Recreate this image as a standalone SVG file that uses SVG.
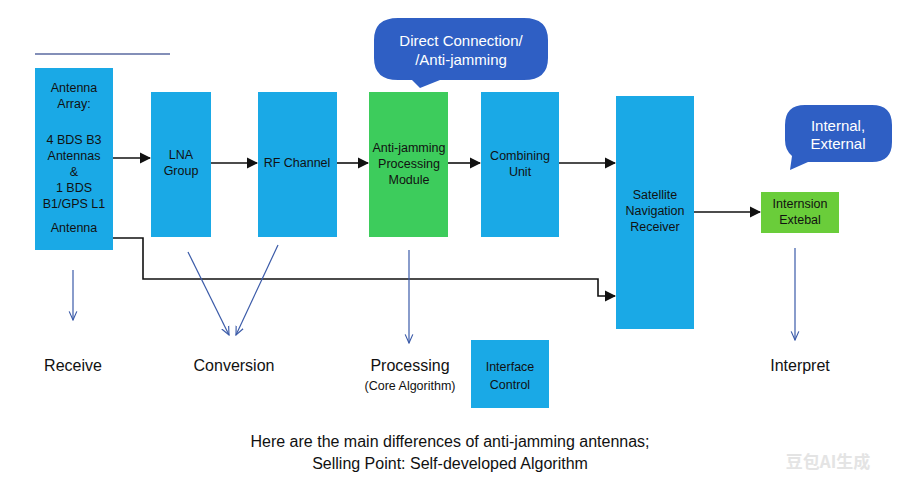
<svg xmlns="http://www.w3.org/2000/svg" width="900" height="495" viewBox="0 0 900 495">
<style>
text{font-family:"Liberation Sans",Arial,sans-serif;fill:#111}
.b{fill:#1aa9e6}
.t{font-size:12.5px;text-anchor:middle}
.l{font-size:16px;text-anchor:middle}
.w{fill:#fff;font-size:15px;text-anchor:middle}
.c line,.c path,.c polyline{stroke:#111;stroke-width:1.6;fill:none}
.d line{stroke:#3a5aa8;stroke-width:1.2}
</style>
<defs>
<marker id="a" viewBox="0 0 10 10" refX="9" refY="5" markerWidth="7" markerHeight="7" orient="auto"><path d="M0,0L10,5L0,10z" fill="#111"/></marker>
<marker id="s" viewBox="0 0 10 10" refX="9" refY="5" markerWidth="8" markerHeight="8" orient="auto"><path d="M0,1L9,5L0,9" fill="none" stroke="#3a5aa8" stroke-width="1.2"/></marker>
</defs>
<rect width="900" height="495" fill="#fff"/>
<line x1="35" y1="54" x2="170" y2="54" stroke="#5a6aa0" stroke-width="1.5"/>
<g id="antenna"><rect class="b" x="35" y="68" width="78" height="182"/>
<text class="t"><tspan x="74" y="92">Antenna</tspan><tspan x="74" y="108">Array:</tspan><tspan x="74" y="144">4 BDS B3</tspan><tspan x="74" y="160">Antennas</tspan><tspan x="74" y="176">&amp;</tspan><tspan x="74" y="192">1 BDS</tspan><tspan x="74" y="208">B1/GPS L1</tspan><tspan x="74" y="232">Antenna</tspan></text></g>
<g id="lna"><rect class="b" x="151" y="92" width="60" height="145"/><text class="t"><tspan x="181" y="159">LNA</tspan><tspan x="181" y="175">Group</tspan></text></g>
<g id="rf"><rect class="b" x="258" y="92" width="79" height="145"/><text class="t" x="297" y="167">RF Channel</text></g>
<g id="aj"><rect fill="#3dcc5c" x="369" y="92" width="79" height="145"/><text class="t" font-size="12"><tspan x="409" y="152">Anti-jamming</tspan><tspan x="409" y="168">Processing</tspan><tspan x="409" y="184">Module</tspan></text></g>
<g id="comb"><rect class="b" x="481" y="92" width="78" height="145"/><text class="t"><tspan x="520" y="160">Combining</tspan><tspan x="520" y="176">Unit</tspan></text></g>
<g id="sat"><rect class="b" x="616" y="96" width="78" height="233"/><text class="t"><tspan x="655" y="199">Satellite</tspan><tspan x="655" y="215">Navigation</tspan><tspan x="655" y="231">Receiver</tspan></text></g>
<g id="ext"><rect fill="#6acd3a" x="761" y="192" width="78" height="41"/><text class="t" fill="#333" font-size="12"><tspan x="800" y="208">Internsion</tspan><tspan x="800" y="224">Extebal</tspan></text></g>
<g id="iface"><rect class="b" x="471" y="340" width="78" height="68"/><text class="t" font-size="14"><tspan x="510" y="371">Interface</tspan><tspan x="510" y="389">Control</tspan></text></g>
<g id="callout1"><path d="M398,18H524Q548,18 548,40V58Q548,80 524,80H440L420,88L412,80H398Q374,80 374,58V40Q374,18 398,18z" fill="#2f5fc4"/><text class="w"><tspan x="461" y="46">Direct Connection/</tspan><tspan x="461" y="65">/Anti-jamming</tspan></text></g>
<g id="callout2"><path d="M805,105H872Q892,105 892,125V142Q892,162 872,162H808L790,170L792,156Q785,150 785,140V125Q785,105 805,105z" fill="#2f5fc4"/><text class="w"><tspan x="838" y="131">Internal,</tspan><tspan x="838" y="149">External</tspan></text></g>
<g class="c">
<line x1="113" y1="158" x2="150" y2="158" marker-end="url(#a)"/>
<line x1="211" y1="163" x2="257" y2="163" marker-end="url(#a)"/>
<line x1="337" y1="163" x2="368" y2="163" marker-end="url(#a)"/>
<line x1="448" y1="163" x2="480" y2="163" marker-end="url(#a)"/>
<line x1="559" y1="163" x2="615" y2="163" marker-end="url(#a)"/>
<line x1="694" y1="212" x2="760" y2="212" marker-end="url(#a)"/>
<polyline points="113,238 143,238 143,279 598,279 598,296 615,296" marker-end="url(#a)"/>
</g>
<g class="d">
<line x1="73" y1="270" x2="73" y2="320" marker-end="url(#s)"/>
<line x1="188" y1="252" x2="229" y2="335" marker-end="url(#s)"/>
<line x1="278" y1="245" x2="236" y2="335" marker-end="url(#s)"/>
<line x1="409" y1="250" x2="409" y2="343" marker-end="url(#s)"/>
<line x1="795" y1="248" x2="795" y2="340" marker-end="url(#s)"/>
</g>
<text class="l" x="73" y="371">Receive</text>
<text class="l" x="234" y="371">Conversion</text>
<text class="l" x="410" y="371">Processing</text>
<text class="t" font-size="13" x="410" y="390">(Core Algorithm)</text>
<text class="l" x="800" y="371">Interpret</text>
<text class="l" x="450" y="447">Here are the main differences of anti-jamming antennas;</text>
<text class="l" x="450" y="469">Selling Point: Self-developed Algorithm</text>
<text x="828" y="468" font-size="17" text-anchor="middle" style="fill:#e4e4e4;font-family:'Noto Sans CJK SC',sans-serif;font-weight:bold">豆包AI生成</text>
</svg>
